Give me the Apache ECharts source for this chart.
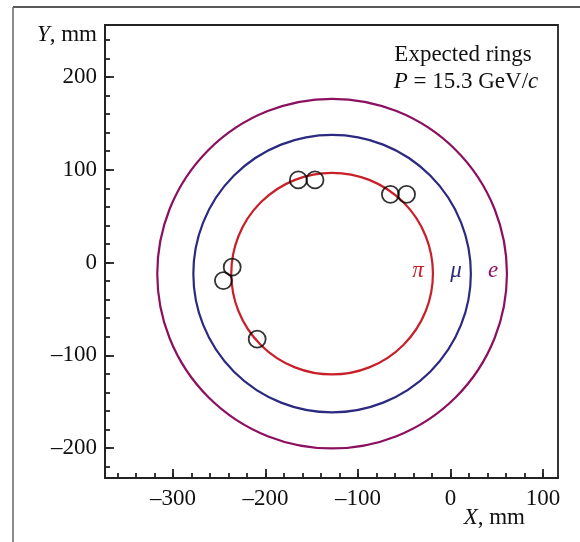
<!DOCTYPE html>
<html>
<head>
<meta charset="utf-8">
<script src="https://cdn.jsdelivr.net/npm/echarts@6/dist/echarts.min.js"></script>
<style>
html,body{margin:0;padding:0;background:#fff;}
#chart{width:580px;height:542px;}
</style>
</head>
<body>
<div id="chart"></div>
<script>
// ---- data ----
const xMajorTicks = [-300, -200, -100, 0, 100];
const yMajorTicks = [-200, -100, 0, 100, 200];
const xMinorTicks = [-360,-340,-320,-300,-280,-260,-240,-220,-200,-180,-160,-140,-120,-100,-80,-60,-40,-20,0,20,40,60,80,100];
const yMinorTicks = [-220,-200,-180,-160,-140,-120,-100,-80,-60,-40,-20,0,20,40,60,80,100,120,140,160,180,200,220,240];
const ringNames = ['π', 'μ', 'e'];
const ringCenterX = [-128, -128, -128];
const ringCenterY = [-12, -12, -12];
const ringRadius = [109, 150, 189];
const ringColors = ['#c8202a', '#2b2a80', '#8c1060'];
const hitX = [-164.5, -146.5, -65, -47.5, -236, -245.5, -209];
const hitY = [89, 89, 73.5, 73.5, -5, -19.5, -82.5];
const annotationLines = ['Expected rings', 'P = 15.3 GeV/c'];

const xMin = -373.5, xMax = 116.2, yMin = -232.3, yMax = 256;
const FONT = 'Liberation Serif';
const FS = 23;

const chart = echarts.init(document.getElementById('chart'), null, {renderer: 'canvas'});
const fmt = v => (v < 0 ? '\u2013' + Math.abs(v) : String(v));

const ringData = ringNames.map((n, i) => [ringCenterX[i], ringCenterY[i], ringRadius[i], i]);
const hitData = hitX.map((x, i) => [x, hitY[i]]);

const option = {
  animation: false,
  backgroundColor: '#fff',
  grid: {left: 105, top: 25, width: 453, height: 453, show: true, borderColor: '#222', borderWidth: 1.8, backgroundColor: 'transparent'},
  xAxis: [
    {type: 'value', min: xMin, max: xMax, position: 'bottom',
     axisLine: {show: true, onZero: false, lineStyle: {color: '#222', width: 1.8}},
     axisTick: {show: true, inside: true, length: 9, customValues: xMajorTicks, lineStyle: {color: '#222', width: 1.8}},
     axisLabel: {show: true, customValues: xMajorTicks, formatter: fmt, fontFamily: FONT, fontSize: FS, color: '#111', margin: 9},
     splitLine: {show: false}},
    {type: 'value', min: xMin, max: xMax, position: 'bottom', gridIndex: 0,
     axisLine: {show: false, onZero: false},
     axisTick: {show: true, inside: true, length: 5, customValues: xMinorTicks, lineStyle: {color: '#222', width: 1.8}},
     axisLabel: {show: false, customValues: xMinorTicks},
     splitLine: {show: false}}
  ],
  yAxis: [
    {type: 'value', min: yMin, max: yMax, position: 'left',
     axisLine: {show: true, onZero: false, lineStyle: {color: '#222', width: 1.8}},
     axisTick: {show: true, inside: true, length: 9, customValues: yMajorTicks, lineStyle: {color: '#222', width: 1.8}},
     axisLabel: {show: true, customValues: yMajorTicks, formatter: fmt, fontFamily: FONT, fontSize: FS, color: '#111', margin: 8},
     splitLine: {show: false}},
    {type: 'value', min: yMin, max: yMax, position: 'left',
     axisLine: {show: false, onZero: false},
     axisTick: {show: true, inside: true, length: 5, customValues: yMinorTicks, lineStyle: {color: '#222', width: 1.8}},
     axisLabel: {show: false, customValues: yMinorTicks},
     splitLine: {show: false}}
  ],
  series: [
    {type: 'custom', xAxisIndex: 0, yAxisIndex: 0, data: ringData, clip: true,
     renderItem: function (params, api) {
       const c = api.coord([api.value(0), api.value(1)]);
       const r = api.size([api.value(2), 0])[0];
       const idx = api.value(3);
       return {type: 'circle', shape: {cx: c[0], cy: c[1], r: r},
               style: {fill: 'none', stroke: ringColors[idx], lineWidth: 2.2}};
     }},
    {type: 'scatter', xAxisIndex: 0, yAxisIndex: 0, data: hitData, symbol: 'circle', symbolSize: 17,
     itemStyle: {color: 'rgba(0,0,0,0)', borderColor: '#000', borderWidth: 1.8}, z: 5}
  ],
  graphic: [
    {type: 'line', shape: {x1: 13, y1: 7, x2: 580, y2: 7}, style: {stroke: '#222', lineWidth: 1.5}},
    {type: 'line', shape: {x1: 13, y1: 7, x2: 13, y2: 542}, style: {stroke: '#666', lineWidth: 1.5}},
    {type: 'text', x: 97, y: 35, style: {text: '{i|Y}, mm', align: 'right', verticalAlign: 'middle',
      rich: {i: {fontFamily: FONT, fontStyle: 'italic', fontSize: FS, fill: '#111'}},
      fontFamily: FONT, fontSize: FS, fill: '#111'}},
    {type: 'text', x: 525, y: 518, style: {text: '{i|X}, mm', align: 'right', verticalAlign: 'middle',
      rich: {i: {fontFamily: FONT, fontStyle: 'italic', fontSize: FS, fill: '#111'}},
      fontFamily: FONT, fontSize: FS, fill: '#111'}},
    {type: 'text', x: 463, y: 55, style: {text: annotationLines[0], align: 'center', verticalAlign: 'middle',
      fontFamily: FONT, fontSize: FS, fill: '#111'}},
    {type: 'text', x: 466, y: 82, style: {text: '{i|P} = 15.3 GeV/{i|c}', align: 'center', verticalAlign: 'middle',
      rich: {i: {fontFamily: FONT, fontStyle: 'italic', fontSize: FS, fill: '#111'}},
      fontFamily: FONT, fontSize: FS, fill: '#111'}},
    {type: 'text', x: 418, y: 271, style: {text: ringNames[0], align: 'center', verticalAlign: 'middle',
      fontFamily: FONT, fontStyle: 'italic', fontSize: FS, fill: ringColors[0]}},
    {type: 'text', x: 456, y: 271, style: {text: ringNames[1], align: 'center', verticalAlign: 'middle',
      fontFamily: FONT, fontStyle: 'italic', fontSize: FS, fill: ringColors[1]}},
    {type: 'text', x: 493, y: 271, style: {text: ringNames[2], align: 'center', verticalAlign: 'middle',
      fontFamily: FONT, fontStyle: 'italic', fontSize: FS, fill: ringColors[2]}}
  ]
};
chart.setOption(option);
</script>
</body>
</html>
